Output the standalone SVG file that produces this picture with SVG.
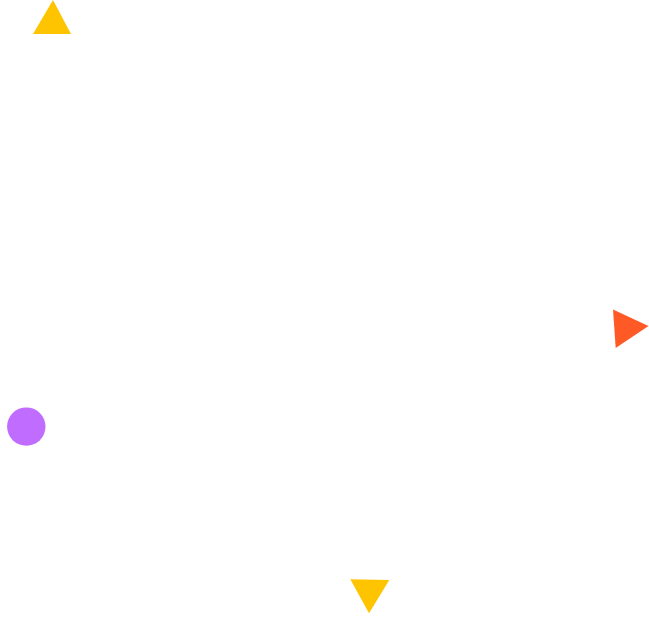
<svg xmlns="http://www.w3.org/2000/svg" width="649" height="617" viewBox="0 0 649 617">
<style>
.yellow{fill:#FFC400}
.orange{fill:#FF5A26}
.purple{fill:#C06CFF}
</style>
<rect width="649" height="617" fill="#FFFFFF"/>
<g id="triangle-top"><polygon class="yellow" points="53,0 33,34 71,34"/></g>
<g id="triangle-right"><polygon class="orange" points="613,309.5 615.7,348 648.5,326"/></g>
<g id="circle-left"><circle class="purple" cx="26.3" cy="426.6" r="19.2"/></g>
<g id="triangle-bottom"><polygon class="yellow" points="350.3,579.3 389.3,580 369,613.3"/></g>
<g id="connectors"></g>
</svg>
